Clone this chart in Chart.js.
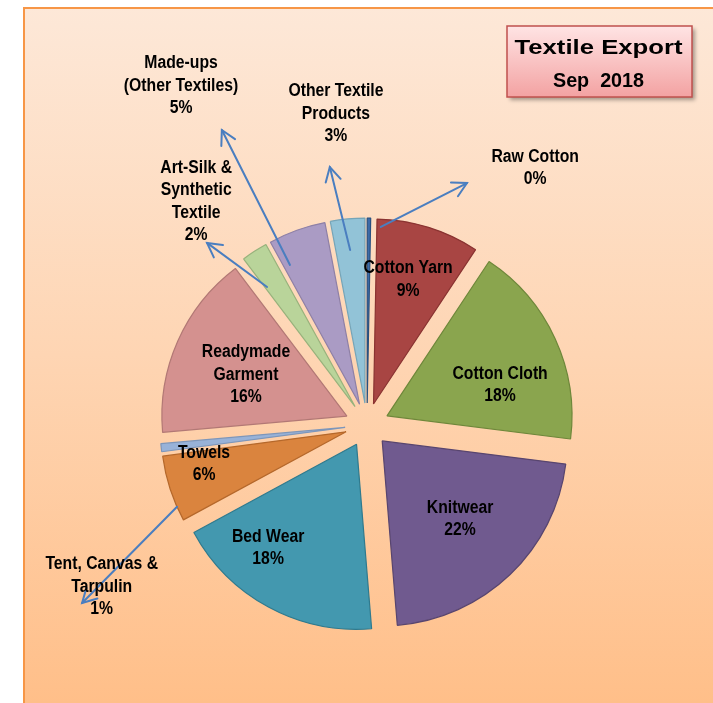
<!DOCTYPE html>
<html><head><meta charset="utf-8">
<script src="https://cdn.jsdelivr.net/npm/chart.js@4"></script>
<style>html,body{margin:0;padding:0;background:#fff;overflow:hidden}canvas{display:block}</style>
</head><body>
<canvas id="c" width="713" height="703"></canvas>
<script>
// ---- data ----
const categories = ["Raw Cotton","Cotton Yarn","Cotton Cloth","Knitwear","Bed Wear","Towels","Tent, Canvas & Tarpulin","Readymade Garment","Art-Silk & Synthetic Textile","Made-ups (Other Textiles)","Other Textile Products"];
const shares = [0.3, 9.0, 17.7, 21.7, 18.4, 5.8, 0.7, 16.1, 2.3, 5.0, 3.0];
const labelLines = [["Raw Cotton"],["Cotton Yarn"],["Cotton Cloth"],["Knitwear"],["Bed Wear"],["Towels"],["Tent, Canvas &","Tarpulin"],["Readymade","Garment"],["Art-Silk &","Synthetic","Textile"],["Made-ups","(Other Textiles)"],["Other Textile","Products"]];
const titleLines = ["Textile Export","Sep  2018"];

// ---- styles ----
const fillColors = ["#3D6BA8","#A84543","#8AA54E","#705A8F","#4398AF","#DA843E","#98B2D8","#D4918F","#B9D49A","#AA9BC4","#92C3D7"];
const edgeColors = ["#28507F","#8A3331","#6E873A","#58456F","#2F7A8E","#B5682B","#7D96BA","#B27875","#98B27C","#8E80A6","#76A5B8"];
// label layout in polar form around the pie centre: [angle deg clockwise from top, distance / radius]
const labelPolar = [[33.2,1.66],[15.8,0.815],[73.3,0.751],[135.3,0.715],[218.8,0.853],[256.5,0.906],[238.6,1.68],[292.5,0.708],[322.6,1.52],[331.25,2.09],[354.3,1.69]];
// arrows: [startAngle, startDist, endAngle, endDist]
const arrowPolar = [[4.0,1.073,22.45,1.415],null,null,null,null,null,[246.7,1.118,238,1.816],null,[324.1,0.921,318.7,1.31],[334.3,0.96,333.8,1.777],[354.5,0.95,351.8,1.409]];

const EXPLODE = 22, BW = 1.2;
const cx = 367, cy = 425, R = 185;
const side = 2*R + BW;

function polar(c, a, f, r){ const t = a*Math.PI/180; return [c.x + Math.sin(t)*f*r, c.y - Math.cos(t)*f*r]; }

function drawScaledText(ctx, txt, x, y, sx){
  ctx.save(); ctx.translate(x, y); ctx.scale(sx, 1); ctx.fillText(txt, 0, 0); ctx.restore();
}

const bgPlugin = {
  id:'bg',
  beforeDraw(chart){
    const ctx = chart.ctx;
    ctx.save();
    ctx.fillStyle = '#ffffff'; ctx.fillRect(0,0,chart.width,chart.height);
    const g = ctx.createLinearGradient(0,7,0,chart.height);
    g.addColorStop(0,'#FDE8D8'); g.addColorStop(0.5,'#FED5B3'); g.addColorStop(1,'#FFBF89');
    ctx.fillStyle = g; ctx.fillRect(23,7,chart.width,chart.height);
    ctx.strokeStyle = '#F79646'; ctx.lineWidth = 2;
    ctx.beginPath(); ctx.moveTo(24,chart.height+5); ctx.lineTo(24,8); ctx.lineTo(chart.width+5,8); ctx.stroke();
    ctx.restore();
  }
};

// draw every arc element of the library, pulled out along its mid angle (exploded pie)
const explodePlugin = {
  id:'explode',
  beforeDatasetDraw(chart, args){
    const ctx = chart.ctx;
    args.meta.data.forEach(arc=>{
      const mid = (arc.startAngle + arc.endAngle)/2;
      ctx.save();
      ctx.translate(Math.cos(mid)*EXPLODE, Math.sin(mid)*EXPLODE);
      arc.draw(ctx);
      ctx.restore();
    });
    return false;
  }
};

const labelPlugin = {
  id:'labels',
  afterDraw(chart){
    const ctx = chart.ctx;
    const meta = chart.getDatasetMeta(0);
    const arc0 = meta.data[0];
    const c = {x: arc0.x, y: arc0.y};
    const r = arc0.outerRadius;
    const total = shares.reduce((a,b)=>a+b,0);
    // arrows
    ctx.save();
    ctx.strokeStyle = '#4A7EC0'; ctx.lineWidth = 2; ctx.lineCap = 'round';
    arrowPolar.forEach(a=>{
      if(!a) return;
      const [x1,y1] = polar(c,a[0],a[1],r), [x2,y2] = polar(c,a[2],a[3],r);
      const ang = Math.atan2(y2-y1, x2-x1), L = 16, sp = 0.5;
      ctx.beginPath(); ctx.moveTo(x1,y1); ctx.lineTo(x2,y2); ctx.stroke();
      ctx.beginPath();
      ctx.moveTo(x2 - L*Math.cos(ang-sp), y2 - L*Math.sin(ang-sp));
      ctx.lineTo(x2,y2);
      ctx.lineTo(x2 - L*Math.cos(ang+sp), y2 - L*Math.sin(ang+sp));
      ctx.stroke();
    });
    ctx.restore();
    // labels
    ctx.save();
    ctx.fillStyle = '#000';
    ctx.font = 'bold 17.5px "Liberation Sans", Arial, sans-serif';
    ctx.textAlign = 'center'; ctx.textBaseline = 'middle';
    labelLines.forEach((lines,i)=>{
      const all = lines.concat([Math.round(shares[i]/total*100)+'%']);
      const [x,y] = polar(c,labelPolar[i][0],labelPolar[i][1],r);
      all.forEach((t,k)=>{
        drawScaledText(ctx, t, x, y + (k-(all.length-1)/2)*22.5, 0.9);
      });
    });
    ctx.restore();
    // title box
    ctx.save();
    const bx=507, by=26, bw=185, bh=71;
    ctx.shadowColor='rgba(0,0,0,0.35)'; ctx.shadowBlur=4; ctx.shadowOffsetX=3; ctx.shadowOffsetY=3;
    const g = ctx.createLinearGradient(0,by,0,by+bh);
    g.addColorStop(0,'#FFE4E4'); g.addColorStop(1,'#F3A2A2');
    ctx.fillStyle = g; ctx.fillRect(bx,by,bw,bh);
    ctx.shadowColor='transparent';
    ctx.strokeStyle='#C0504D'; ctx.lineWidth=1.5; ctx.strokeRect(bx,by,bw,bh);
    ctx.fillStyle='#000'; ctx.textAlign='center'; ctx.textBaseline='alphabetic';
    ctx.font = 'bold 21px "Liberation Sans", Arial, sans-serif';
    let w = ctx.measureText(titleLines[0]).width;
    drawScaledText(ctx, titleLines[0], bx+bw/2-1, 53.5, 168/w);
    w = ctx.measureText(titleLines[1]).width;
    drawScaledText(ctx, titleLines[1], bx+bw/2-1, 87, 91/w);
    ctx.restore();
  }
};

new Chart(document.getElementById('c'), {
  type:'pie',
  data:{
    labels: categories,
    datasets:[{
      data: shares,
      backgroundColor: fillColors,
      borderColor: edgeColors,
      borderWidth: BW,
      hoverBorderWidth: BW,
      offset: 0,
      hoverOffset: 0
    }]
  },
  options:{
    responsive:false, animation:false, events:[],
    layout:{padding:{left: cx - side/2, right: 713 - cx - side/2, top: cy - side/2, bottom: 703 - cy - side/2}},
    plugins:{legend:{display:false}, tooltip:{enabled:false}, title:{display:false}}
  },
  plugins:[bgPlugin, explodePlugin, labelPlugin]
});
</script>
</body></html>
